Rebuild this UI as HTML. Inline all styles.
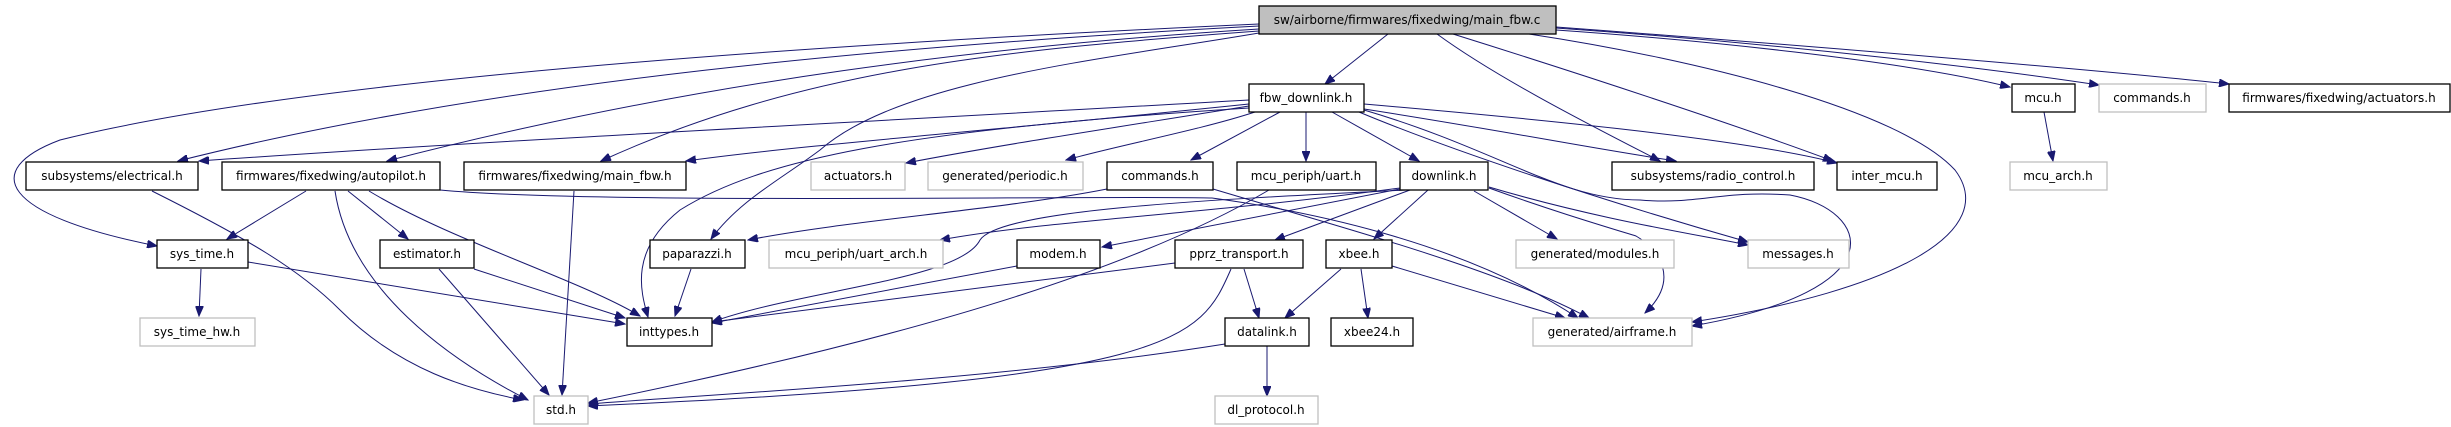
<!DOCTYPE html>
<html><head><meta charset="utf-8"><style>
html,body{margin:0;padding:0;background:#fff;}
svg{display:block;}
text{font-family:"DejaVu Sans","Liberation Sans",sans-serif;font-size:12px;fill:#000;}
.b{fill:#fff;stroke:#000;stroke-width:1.3;}
.g{fill:#fff;stroke:#bfbfbf;stroke-width:1.3;}
.e{fill:none;stroke:#191970;stroke-width:1;}
</style></head><body>
<svg width="2451" height="427" viewBox="0 0 2451 427" xmlns="http://www.w3.org/2000/svg">
<defs><marker id="a" markerWidth="11" markerHeight="8" refX="10" refY="4" orient="auto" markerUnits="userSpaceOnUse"><path d="M0,0 L10,4 L0,8 z" fill="#191970" stroke="#191970"/></marker></defs>
<g class="e" marker-end="url(#a)">
<path d="M1388,34 L1325,84"/>
<path d="M1259,24 C800,45 300,80 60,140 C-20,170 0,215 157,246"/>
<path d="M1259,26 C900,45 500,80 178,161"/>
<path d="M1259,29 C1000,45 700,80 387,161"/>
<path d="M1259,31 C1000,50 800,70 601,161"/>
<path d="M1259,33 C1100,60 900,80 820,150 C780,180 740,200 711,239"/>
<path d="M1437,34 C1500,80 1600,130 1660,161"/>
<path d="M1453,34 C1600,80 1750,130 1833,161"/>
<path d="M1529,34 C1700,60 1900,110 1955,170 C2000,230 1900,290 1692,322"/>
<path d="M1556,30 C1700,40 1900,60 2010,87"/>
<path d="M1556,28 C1800,45 2000,70 2099,85"/>
<path d="M1556,27 C1800,45 2100,70 2229,84"/>
<path d="M1249,100 C900,120 500,140 199,161"/>
<path d="M1249,104 C1000,130 800,145 686,161"/>
<path d="M1249,106 C1100,130 1000,145 906,163"/>
<path d="M1255,112 C1200,130 1120,145 1066,160"/>
<path d="M1280,112 L1191,160"/>
<path d="M1306,112 L1306,161"/>
<path d="M1332,112 L1419,161"/>
<path d="M1364,109 C1500,130 1600,150 1676,161"/>
<path d="M1364,104 C1550,120 1750,140 1837,163"/>
<path d="M1249,108 C900,130 760,160 680,210 C630,250 640,290 648,317"/>
<path d="M1359,112 C1450,150 1600,200 1748,242"/>
<path d="M1364,110 C1500,150 1560,200 1640,200 C1700,205 1720,190 1790,195 C1870,210 1900,290 1692,326"/>
<path d="M306,191 L227,239"/>
<path d="M335,191 C350,290 450,360 528,400"/>
<path d="M348,191 L408,239"/>
<path d="M369,191 C450,240 580,280 640,316"/>
<path d="M440,190 C600,205 1100,195 1212,198 C1300,210 1460,240 1578,318"/>
<path d="M152,191 C250,240 300,270 340,310 C400,370 470,390 523,400"/>
<path d="M574,191 L562,395"/>
<path d="M201,269 L199,316"/>
<path d="M248,262 L625,324"/>
<path d="M439,269 L549,395"/>
<path d="M474,269 L625,318"/>
<path d="M691,269 L675,316"/>
<path d="M1107,189 C1000,210 850,220 748,240"/>
<path d="M1213,189 C1350,230 1500,270 1589,318"/>
<path d="M1400,188 C1200,215 1050,220 940,240"/>
<path d="M1400,189 L1102,247"/>
<path d="M1406,190 C1200,200 1000,210 980,240 C960,280 800,290 712,322"/>
<path d="M1410,190 L1275,240"/>
<path d="M1428,190 L1374,239"/>
<path d="M1474,191 L1557,239"/>
<path d="M1489,187 C1600,220 1700,235 1748,245"/>
<path d="M1489,188 C1550,210 1600,225 1636,236 C1660,250 1680,280 1645,313"/>
<path d="M1269,190 C1150,260 950,330 588,403"/>
<path d="M1017,266 L712,323"/>
<path d="M1175,263 L712,322"/>
<path d="M1244,269 L1259,318"/>
<path d="M1231,269 C1200,340 1180,380 588,406"/>
<path d="M1341,269 L1285,318"/>
<path d="M1361,269 L1368,318"/>
<path d="M1392,266 L1565,318"/>
<path d="M1267,346 L1267,396"/>
<path d="M1225,344 C1000,380 700,395 588,404"/>
<path d="M2044,112 L2053,161"/>
</g>
<g>
<rect x="1259" y="6" width="297" height="28" fill="#bfbfbf" stroke="#000" stroke-width="1.3"/>
<rect class="b" x="1249" y="84" width="115" height="28"/>
<rect class="b" x="26" y="162" width="172" height="28"/>
<rect class="b" x="222" y="162" width="218" height="28"/>
<rect class="b" x="464" y="162" width="222" height="28"/>
<rect class="g" x="811" y="162" width="94" height="28"/>
<rect class="g" x="928" y="162" width="155" height="28"/>
<rect class="b" x="1107" y="162" width="106" height="28"/>
<rect class="b" x="1237" y="162" width="139" height="28"/>
<rect class="b" x="1400" y="162" width="88" height="28"/>
<rect class="b" x="1612" y="162" width="202" height="28"/>
<rect class="b" x="1837" y="162" width="100" height="28"/>
<rect class="b" x="2012" y="84" width="63" height="28"/>
<rect class="g" x="2099" y="84" width="107" height="28"/>
<rect class="b" x="2229" y="84" width="221" height="28"/>
<rect class="g" x="2010" y="162" width="97" height="28"/>
<rect class="b" x="157" y="240" width="91" height="28"/>
<rect class="b" x="380" y="240" width="94" height="28"/>
<rect class="b" x="650" y="240" width="95" height="28"/>
<rect class="g" x="769" y="240" width="174" height="28"/>
<rect class="b" x="1017" y="240" width="83" height="28"/>
<rect class="b" x="1175" y="240" width="128" height="28"/>
<rect class="b" x="1326" y="240" width="66" height="28"/>
<rect class="g" x="1516" y="240" width="158" height="28"/>
<rect class="g" x="1748" y="240" width="101" height="28"/>
<rect class="g" x="140" y="318" width="115" height="28"/>
<rect class="b" x="627" y="318" width="85" height="28"/>
<rect class="b" x="1225" y="318" width="84" height="28"/>
<rect class="b" x="1331" y="318" width="82" height="28"/>
<rect class="g" x="1533" y="318" width="159" height="28"/>
<rect class="g" x="534" y="396" width="54" height="28"/>
<rect class="g" x="1215" y="396" width="103" height="28"/>
</g>
<g text-anchor="middle">
<text x="1407" y="24">sw/airborne/firmwares/fixedwing/main_fbw.c</text>
<text x="1306" y="102">fbw_downlink.h</text>
<text x="112" y="180">subsystems/electrical.h</text>
<text x="331" y="180">firmwares/fixedwing/autopilot.h</text>
<text x="575" y="180">firmwares/fixedwing/main_fbw.h</text>
<text x="858" y="180">actuators.h</text>
<text x="1005" y="180">generated/periodic.h</text>
<text x="1160" y="180">commands.h</text>
<text x="1306" y="180">mcu_periph/uart.h</text>
<text x="1444" y="180">downlink.h</text>
<text x="1713" y="180">subsystems/radio_control.h</text>
<text x="1887" y="180">inter_mcu.h</text>
<text x="2043" y="102">mcu.h</text>
<text x="2152" y="102">commands.h</text>
<text x="2339" y="102">firmwares/fixedwing/actuators.h</text>
<text x="2058" y="180">mcu_arch.h</text>
<text x="202" y="258">sys_time.h</text>
<text x="427" y="258">estimator.h</text>
<text x="697" y="258">paparazzi.h</text>
<text x="856" y="258">mcu_periph/uart_arch.h</text>
<text x="1058" y="258">modem.h</text>
<text x="1239" y="258">pprz_transport.h</text>
<text x="1359" y="258">xbee.h</text>
<text x="1595" y="258">generated/modules.h</text>
<text x="1798" y="258">messages.h</text>
<text x="197" y="336">sys_time_hw.h</text>
<text x="669" y="336">inttypes.h</text>
<text x="1267" y="336">datalink.h</text>
<text x="1372" y="336">xbee24.h</text>
<text x="1612" y="336">generated/airframe.h</text>
<text x="561" y="414">std.h</text>
<text x="1266" y="414">dl_protocol.h</text>
</g>
</svg>
</body></html>
